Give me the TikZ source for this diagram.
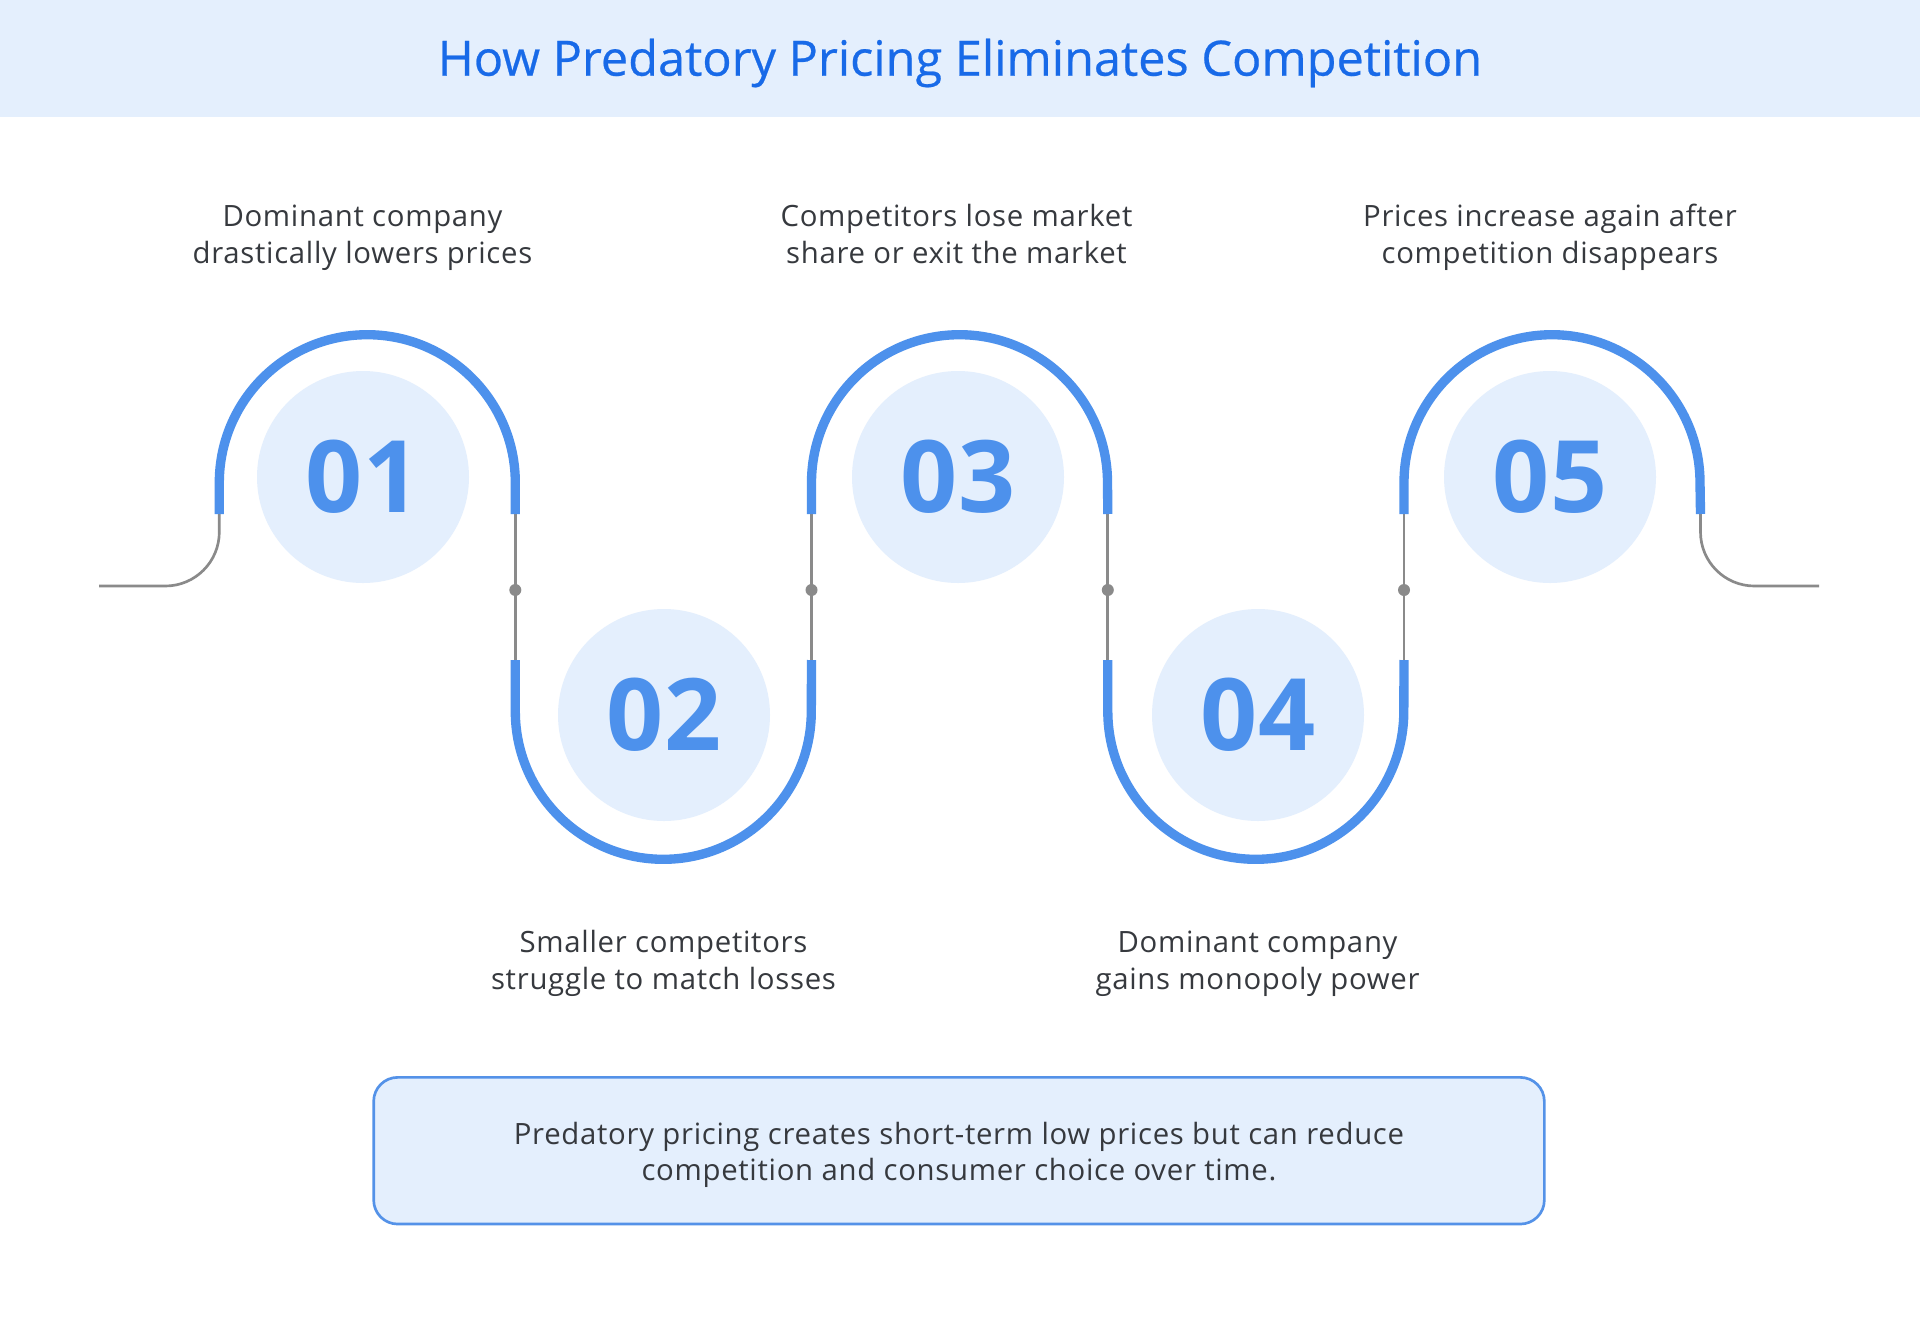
\documentclass[tikz,border=0pt]{standalone}
\usepackage{fontspec}
\setmainfont{Open Sans}
\newfontfamily\titlefont[FakeBold=0.5]{Open Sans}
\newfontfamily\bodyfont[LetterSpace=2.4]{Open Sans}
\usetikzlibrary{arrows}

\definecolor{bandfill}{RGB}{228,239,253}
\definecolor{titleblue}{RGB}{24,106,232}
\definecolor{arcblue}{RGB}{77,145,236}
\definecolor{discfill}{RGB}{228,239,253}
\definecolor{linegray}{RGB}{138,138,138}
\definecolor{textgray}{RGB}{54,57,62}
\definecolor{boxblue}{RGB}{84,146,232}

\begin{document}
\begin{tikzpicture}[x=0.75pt,y=0.75pt,yscale=-1,xscale=1,
  bluearc/.style={draw=arcblue, line width=7pt},
  grayline/.style={draw=linegray, line width=2pt},
  graydot/.style={circle, fill=linegray, minimum size=9pt, inner sep=0pt},
  numdisc/.style={circle, fill=discfill, minimum size=159pt, inner sep=0pt, text=arcblue, font=\fontsize{75}{75}\selectfont\bfseries},
  steptext/.style={align=center, text=textgray, inner sep=0pt, font=\bodyfont\fontsize{22}{27.5}\selectfont},
  notebox/.style={draw=boxblue, line width=2pt, fill=bandfill, rounded corners=18pt, minimum width=878pt, minimum height=110pt}]
%set diagram to 1920 x 1329
\fill[white] (0,0) rectangle (1920,1329);
\useasboundingbox (0,0) rectangle (1920,1329);

%Shape: Rectangle [title band]
\fill[bandfill] (0,0) rectangle (1920,117);
% Text Node
\node (title) at (960,63) [text=titleblue, font=\titlefont\fontsize{36.5}{40}\selectfont] {How Predatory Pricing Eliminates Competition};

% ends of the blue arcs
\coordinate (s0) at (219.3,514);
\coordinate (t1) at (515.3,514);
\coordinate (u1) at (515.3,660);
\coordinate (t2) at (811.5,514);
\coordinate (u2) at (811.5,660);
\coordinate (t3) at (1107.8,514);
\coordinate (u3) at (1107.8,660);
\coordinate (t4) at (1404,514);
\coordinate (u4) at (1404,660);
\coordinate (s5) at (1700.5,514);
\coordinate (w0) at (99,586);
\coordinate (w5) at (1819,586);

%Straight Lines [gray links]
\draw[grayline] (s0) -- ++(0,18) arc[start angle=0, end angle=90, radius=54] -- (w0);
\draw[grayline] (t1) -- (u1);
\draw[grayline] (t2) -- (u2);
\draw[grayline] (t3) -- (u3);
\draw[grayline] (t4) -- (u4);
\draw[grayline] (s5) -- ++(0,18) arc[start angle=180, end angle=90, radius=54] -- (w5);

%Shape: Ellipse [gray dots]
\node (d1) at (515.3,590) [graydot] {};
\node (d2) at (811.5,590) [graydot] {};
\node (d3) at (1107.8,590) [graydot] {};
\node (d4) at (1404,590) [graydot] {};

%Shape: Circle [number discs]
\node (n1) at (363,477) [numdisc] {01};
\node (n2) at (664,715) [numdisc] {02};
\node (n3) at (958,477) [numdisc] {03};
\node (n4) at (1258,715) [numdisc] {04};
\node (n5) at (1550,477) [numdisc] {05};

%Curve Lines [blue arcs]
\draw[bluearc] (s0) -- ++(0,-31.3) arc[start angle=180, end angle=360, radius=148] -- (t1);
\draw[bluearc] (u1) -- ++(0,51.3) arc[start angle=180, end angle=0, radius=148] -- (u2);
\draw[bluearc] (t2) -- ++(0,-31.3) arc[start angle=180, end angle=360, radius=148] -- (t3);
\draw[bluearc] (u3) -- ++(0,51.3) arc[start angle=180, end angle=0, radius=148] -- (u4);
\draw[bluearc] (t4) -- ++(0,-31.3) arc[start angle=180, end angle=360, radius=148] -- (s5);

% Text Node
\node (l1) at (362.5,237.7) [steptext] {\strut Dominant company\\\strut drastically lowers prices};
% Text Node
\node (l2) at (663.5,963.4) [steptext] {\strut Smaller competitors\\\strut struggle to match losses};
% Text Node
\node (l3) at (956.5,237.7) [steptext] {\strut Competitors lose market\\\strut share or exit the market};
% Text Node
\node (l4) at (1257.5,963.4) [steptext] {\strut Dominant company\\\strut gains monopoly power};
% Text Node
\node (l5) at (1550,237.7) [steptext] {\strut Prices increase again after\\\strut competition disappears};

%Shape: Rectangle [summary box]
\node (note) at (959,1150.7) [notebox] {};
% Text Node
\node (notetext) at (959,1155) [steptext] {\strut Predatory pricing creates short-term low prices but can reduce\\\strut competition and consumer choice over time.};

\end{tikzpicture}
\end{document}
